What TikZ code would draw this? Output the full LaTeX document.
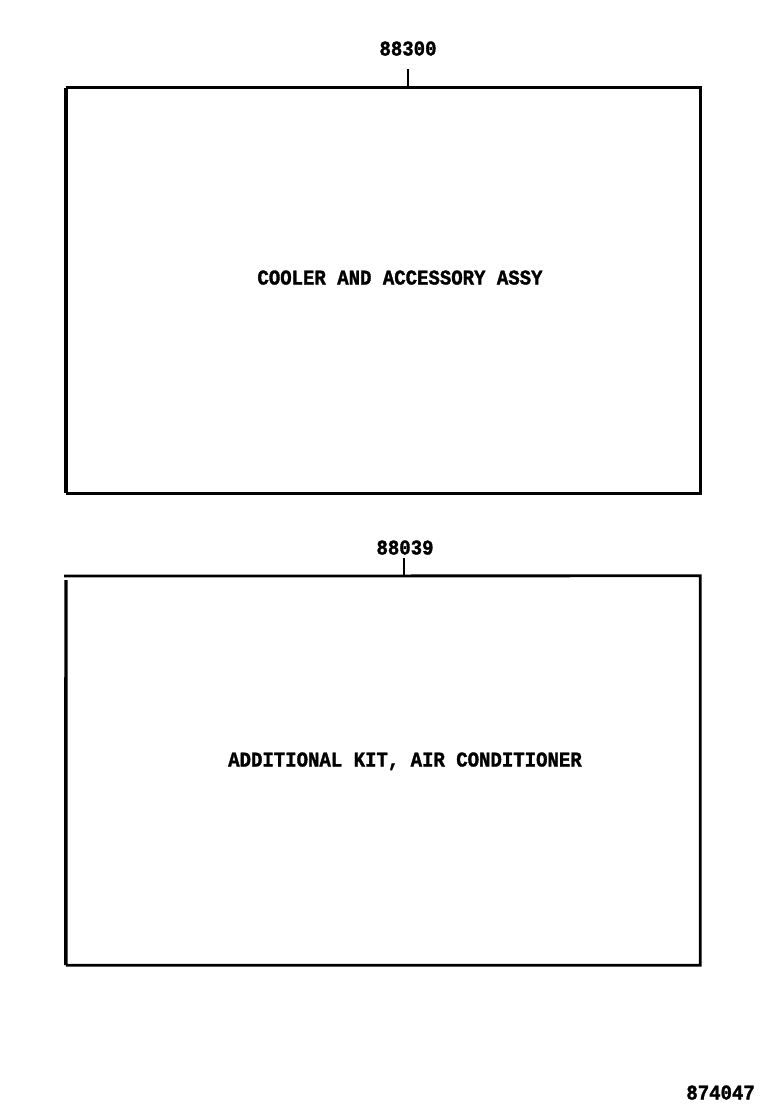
\documentclass[tikz,border=0pt]{standalone}
\usepackage{fontspec}
\newfontfamily\partfont[FakeStretch=0.905,FakeBold=1.5]{Liberation Mono}
\begin{document}
\begin{tikzpicture}[x=1pt,y=-1pt,
  lbl/.style={font=\partfont\bfseries\fontsize{21}{21}\selectfont, inner sep=0pt, anchor=base},
  edge/.style={line width=2.8pt, line cap=butt},
  thick edge/.style={line width=3.4pt},
  boxnode/.style={draw=none, inner sep=0pt, minimum width=634pt, minimum height=405pt}]
\useasboundingbox[fill=white] (0,0) rectangle (760,1112);
% box 1
\node[boxnode] (b1) at (383,290.5) {};
\draw[edge] (b1.north west) -- (b1.north east) -- (b1.south east) -- (b1.south west);
\draw[thick edge] (b1.north west) -- (b1.south west);
\node[lbl] (t1) at (400,284.5) {COOLER AND ACCESSORY ASSY};
\node[lbl] (n1) at (408,55.5) {88300};
\coordinate (k1) at (408,88);
\draw[edge] (408,69) -- (k1);
% box 2
\node[boxnode, minimum height=389pt] (b2) at (383,770.5) {};
\coordinate (b2tl) at (64,576);
\draw[edge] (b2tl) -- (b2.north east) -- (b2.south east) -- (b2.south west);
\draw[thick edge] (66,580) -- (b2.south west);
\node[lbl] (t2) at (405,766.5) {ADDITIONAL KIT, AIR CONDITIONER};
\node[lbl] (n2) at (405,554.5) {88039};
\coordinate (k2) at (404,576);
\draw[edge] (404,558) -- (k2);
% footer
\node[lbl, anchor=base east] (ref) at (755,1099.5) {874047};
\end{tikzpicture}
\end{document}
